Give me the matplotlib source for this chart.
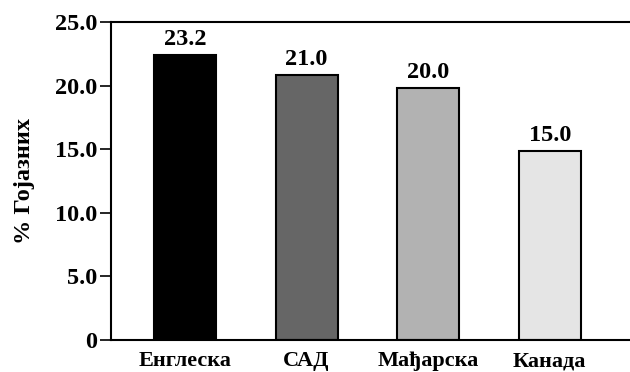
import matplotlib
matplotlib.use("Agg")
import matplotlib.pyplot as plt

categories = ["Енглеска", "САД", "Мађарска", "Канада"]
values = [22.4, 20.85, 19.8, 14.85]
value_labels = ["23.2", "21.0", "20.0", "15.0"]
colors = ["#000000", "#666666", "#b2b2b2", "#e5e5e5"]
yticks = [0, 5, 10, 15, 20, 25]
ytick_labels = ["0", "5.0", "10.0", "15.0", "20.0", "25.0"]

plt.rcParams['font.family'] = ['Liberation Serif', 'DejaVu Serif']
plt.rcParams['font.weight'] = 'bold'

fs = 17.5
fig = plt.figure(figsize=(6.3, 3.72), dpi=100)
ax = fig.add_axes([0.176, 0.086, 0.824, 0.855])

x = range(len(categories))
ax.bar(x, values, width=0.51, color=colors, edgecolor="black", linewidth=1.5, zorder=2)
for xi, v, lab in zip(x, values, value_labels):
    ax.text(xi, v + 0.4, lab, ha="center", va="bottom", fontsize=fs, fontweight="bold")

ax.set_xlim(-0.61, 3.66)
ax.set_ylim(0, 25)
ax.set_yticks(yticks)
ax.set_yticklabels(ytick_labels, fontsize=fs, fontweight="bold")
ax.set_xticks(list(x))
ax.set_xticklabels(categories, fontsize=16, fontweight="bold")
ax.tick_params(axis="y", direction="out", length=8, width=1.2, pad=2)
ax.tick_params(axis="x", length=0, pad=8)
for s in ax.spines.values():
    s.set_linewidth(1.5)
ax.spines["right"].set_visible(False)
ax.set_ylabel("% Гојазних", fontsize=fs, fontweight="bold", labelpad=14)

fig.savefig("out.png", dpi=100)
